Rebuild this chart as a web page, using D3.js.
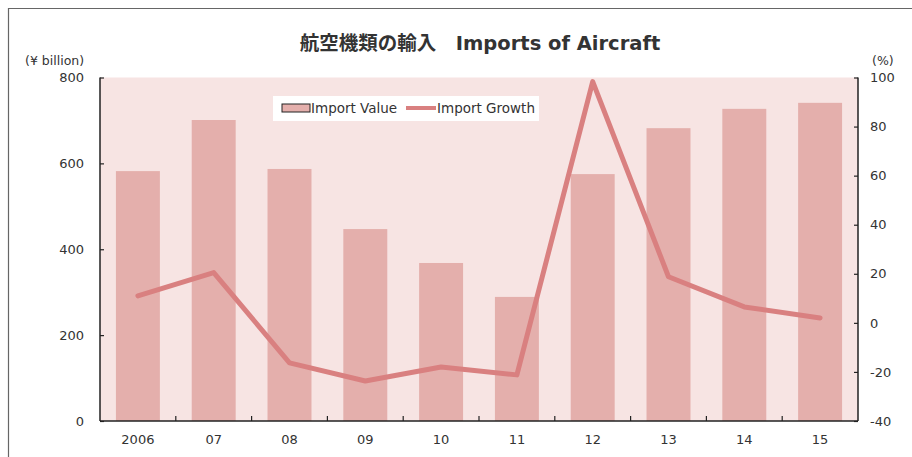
<!DOCTYPE html>
<html>
<head>
<meta charset="utf-8">
<script src="https://cdn.jsdelivr.net/npm/d3@7"></script>
<style>
  body { margin: 0; background: #fff; }
  svg text { font-family: "DejaVu Sans", "Noto Sans CJK JP", sans-serif; fill: #333; }
</style>
</head>
<body>
<svg id="chart" width="912" height="457"></svg>
<script>
// data
var years = ['2006', '07', '08', '09', '10', '11', '12', '13', '14', '15']
var importValue = [582, 701, 587, 447, 368, 289, 575, 682, 727, 741]
var importGrowth = [11.0, 20.5, -16.3, -23.7, -18.0, -21.2, 98.3, 18.8, 6.5, 2.0]
var leftTicks = [0, 200, 400, 600, 800]
var rightTicks = [-40, -20, 0, 20, 40, 60, 80, 100]

var svg = d3.select('#chart')
var m = {left: 100, right: 858, top: 77.5, bottom: 421}

// outer frame (cropped on right/bottom)
svg.append('path')
  .attr('d', 'M8.5,457 L8.5,8.5 L912,8.5')
  .attr('fill', 'none')
  .attr('stroke', '#666')
  .attr('stroke-width', 1.2)

svg.append('rect')
  .attr('x', m.left).attr('y', m.top)
  .attr('width', m.right - m.left).attr('height', m.bottom - m.top)
  .attr('fill', '#f7e4e3')

var x = d3.scaleBand().domain(years).range([m.left, m.right]).paddingInner(0.42).paddingOuter(0.21)
var xb = d3.scaleBand().domain(years).range([m.left, m.right])
var yL = d3.scaleLinear().domain([0, 800]).range([m.bottom, m.top])
var yR = d3.scaleLinear().domain([-40, 100]).range([m.bottom, m.top])

svg.append('g').selectAll('rect').data(importValue).join('rect')
  .attr('x', function(d, i){ return x(years[i]) })
  .attr('y', function(d){ return yL(d) })
  .attr('width', x.bandwidth())
  .attr('height', function(d){ return yL(0) - yL(d) })
  .attr('fill', '#e4afac')

var line = d3.line()
  .x(function(d, i){ return xb(years[i]) + xb.bandwidth() / 2 })
  .y(function(d){ return yR(d) })

svg.append('path')
  .datum(importGrowth)
  .attr('d', line)
  .attr('fill', 'none')
  .attr('stroke', '#d98080')
  .attr('stroke-width', 5)
  .attr('stroke-linejoin', 'round')
  .attr('stroke-linecap', 'round')

// axes
var axisColor = '#222'
var hyphen = function(d){ return String(d) }
var gl = svg.append('g').attr('transform', 'translate(' + m.left + ',0)')
  .call(d3.axisLeft(yL).tickValues(leftTicks).tickFormat(hyphen).tickSize(-4).tickPadding(16))
var gr = svg.append('g').attr('transform', 'translate(' + m.right + ',0)')
  .call(d3.axisRight(yR).tickValues(rightTicks).tickFormat(hyphen).tickSize(-4).tickPadding(12))
var gb = svg.append('g').attr('transform', 'translate(0,' + m.bottom + ')')
  .call(d3.axisBottom(x).tickSize(0).tickPadding(14))

;[gl, gr, gb].forEach(function(g) {
  g.select('.domain').attr('stroke', axisColor).attr('stroke-width', 1.5)
  g.selectAll('.tick line').attr('stroke', axisColor).attr('stroke-width', 1.2)
  g.selectAll('text').attr('font-size', 13).attr('fill', '#333')
    .style('font-family', '"DejaVu Sans", sans-serif')
})
gl.select('.domain').attr('d', 'M0,' + m.top + 'V' + m.bottom)
gr.select('.domain').attr('d', 'M0,' + m.top + 'V' + m.bottom)
gb.select('.domain').attr('d', 'M' + m.left + ',0H' + m.right)

// bottom ticks at band boundaries, pointing up
svg.append('g').selectAll('line').data(years.slice(1)).join('line')
  .attr('x1', function(d){ return xb(d) }).attr('x2', function(d){ return xb(d) })
  .attr('y1', m.bottom).attr('y2', m.bottom - 5)
  .attr('stroke', axisColor).attr('stroke-width', 1.2)

// unit labels
svg.append('text').attr('x', 25).attr('y', 65).attr('font-size', 12.5).text('(¥ billion)')
svg.append('text').attr('x', 872).attr('y', 65).attr('font-size', 12.5).text('(%)')

// title
svg.append('text')
  .attr('x', 480).attr('y', 50)
  .attr('text-anchor', 'middle')
  .attr('font-size', 19.5).attr('font-weight', 'bold')
  .attr('fill', '#222')
  .text('航空機類の輸入\u3000Imports of Aircraft')

// legend
var lg = svg.append('g')
lg.append('rect').attr('x', 273).attr('y', 96).attr('width', 266).attr('height', 25).attr('fill', '#fff')
lg.append('rect').attr('x', 282).attr('y', 104).attr('width', 28).attr('height', 8)
  .attr('fill', '#e4afac').attr('stroke', '#222').attr('stroke-width', 1)
lg.append('text').attr('x', 311).attr('y', 113).attr('font-size', 13.5).text('Import Value')
lg.append('line').attr('x1', 406).attr('x2', 436).attr('y1', 108).attr('y2', 108)
  .attr('stroke', '#d98080').attr('stroke-width', 4)
lg.append('text').attr('x', 437).attr('y', 113).attr('font-size', 13.5).text('Import Growth')
</script>
</body>
</html>
